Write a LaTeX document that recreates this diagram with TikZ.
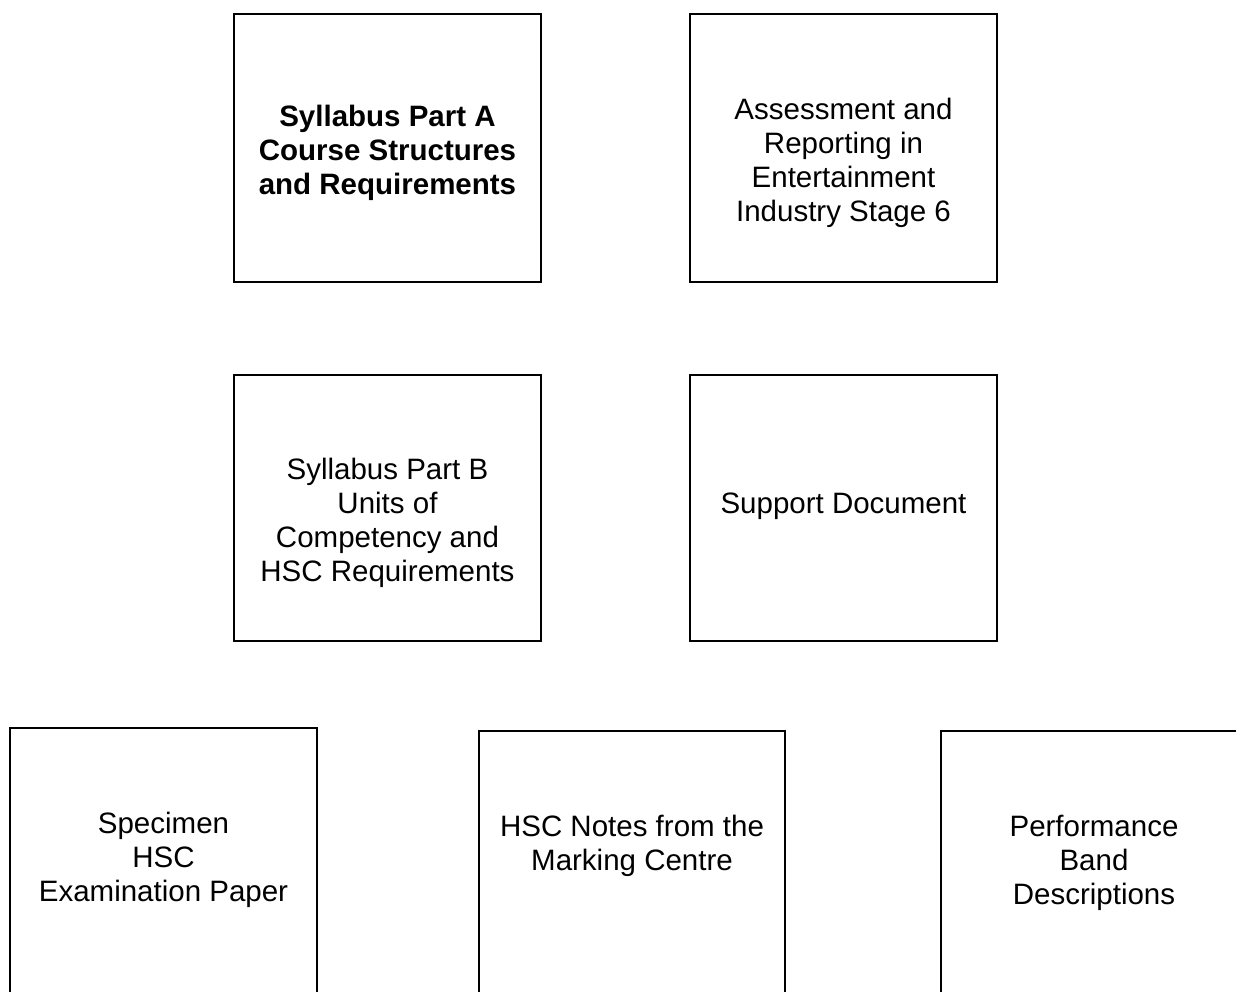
\documentclass[tikz,border=0pt]{standalone}
\usepackage{fontspec}
\setmainfont{Liberation Sans}
\begin{document}
\begin{tikzpicture}[x=1pt,y=-1pt,
  docbox/.style={draw=black,line width=1.3pt,inner sep=0pt},
  doctext/.style={align=center,inner sep=0pt,font=\fontsize{29.5}{34}\selectfont}]
\useasboundingbox (0,0) rectangle (1236,991);
\clip (0,0) rectangle (1236,991);
% boxes
\draw[docbox] (234,14) rectangle (541,282);
\draw[docbox] (690,14) rectangle (997,282);
\draw[docbox] (234,375) rectangle (541,641);
\draw[docbox] (690,375) rectangle (997,641);
\draw[docbox] (10,728) rectangle (317,1010);
\draw[docbox] (479,731) rectangle (785,1010);
\draw[docbox] (941,731) rectangle (1260,1010);
% texts
\node[doctext,font=\fontsize{29.5}{34}\selectfont\bfseries] (a) at (387.5,153) {Syllabus Part A\\Course Structures\\and Requirements};
\node[doctext] (b) at (843.5,163) {Assessment and\\Reporting in\\Entertainment\\Industry Stage 6};
\node[doctext] (c) at (387.5,523) {Syllabus Part B\\Units of\\Competency and\\HSC Requirements};
\node[doctext] (d) at (843.5,506) {Support Document};
\node[doctext] (e) at (163.5,860) {Specimen\\HSC\\Examination Paper};
\node[doctext] (f) at (632,846) {HSC Notes from the\\Marking Centre};
\node[doctext] (g) at (1094,863) {Performance\\Band\\Descriptions};
\end{tikzpicture}
\end{document}
